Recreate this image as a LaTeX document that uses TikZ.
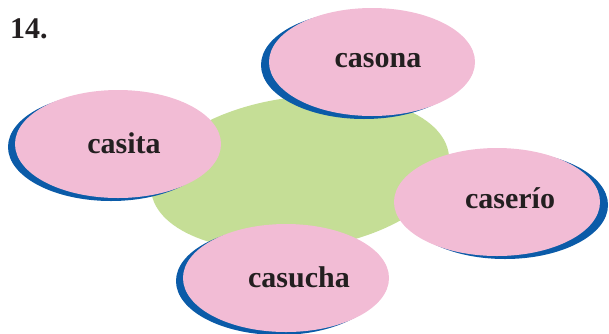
\documentclass[tikz,border=0pt]{standalone}
\usepackage{fontspec}
\setmainfont{Liberation Serif}
\usetikzlibrary{shapes.geometric}
\definecolor{pinkfill}{HTML}{F2BCD5}
\definecolor{blueedge}{HTML}{0B5BA8}
\definecolor{greenfill}{HTML}{C5DE96}
\definecolor{inktext}{HTML}{231F20}
\begin{document}
\begin{tikzpicture}[x=1pt,y=1pt,
  pinkoval/.style={ellipse, fill=pinkfill, minimum width=206pt, minimum height=108pt, inner sep=0pt},
  blueoval/.style={ellipse, fill=blueedge, minimum width=206pt, minimum height=108pt, inner sep=0pt},
  word/.style={anchor=base, font=\fontsize{30}{30}\selectfont\bfseries, text=inktext, inner sep=0pt}]
\useasboundingbox (0,0) rectangle (609,-333);
\clip (0,0) rectangle (609,-333);
% central green ellipse
\node[ellipse, fill=greenfill, minimum width=300pt, minimum height=152pt, inner sep=0pt, rotate=7] (hub) at (300,-173) {};
% casita
\node[blueoval] (casitaB) at (111,-147) {};
\node[pinkoval] (casitaP) at (118,-144) {};
\node[word] (casita) at (124,-153) {casita};
% casona
\node[blueoval] (casonaB) at (364,-65) {};
\node[pinkoval] (casonaP) at (372,-62) {};
\node[word] (casona) at (378,-67) {casona};
% caserio
\node[blueoval] (caserioB) at (505,-205) {};
\node[pinkoval] (caserioP) at (497,-202) {};
\node[word] (caserio) at (510,-208) {caserío};
% casucha
\node[blueoval] (casuchaB) at (279,-281) {};
\node[pinkoval] (casuchaP) at (286,-278) {};
\node[word] (casucha) at (299,-287) {casucha};
% number
\node[word, anchor=base west] (num) at (10,-38) {14.};
\end{tikzpicture}
\end{document}
